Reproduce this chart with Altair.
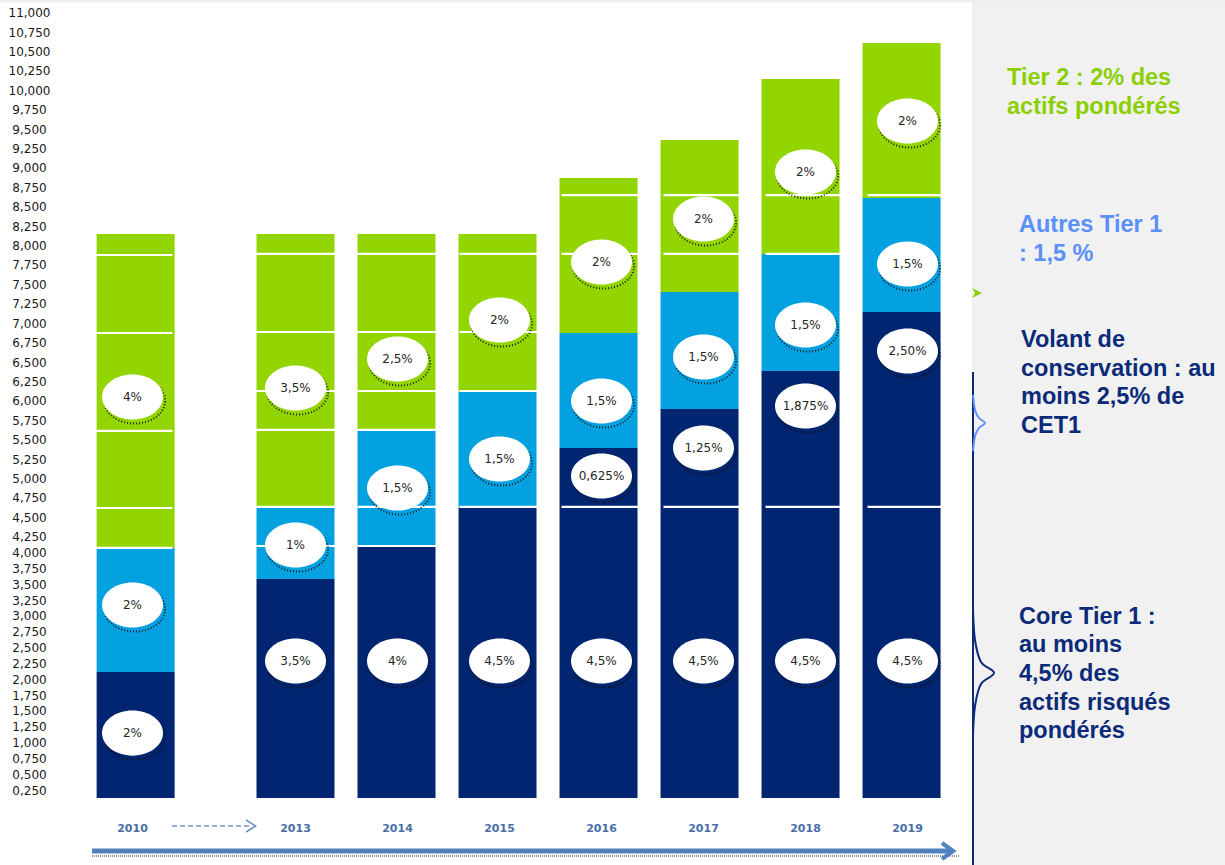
import altair as alt
import pandas as pd

OX = 60  # left padding (px) reserved for the y-axis labels

# ---------------- data (in y-axis units) ----------------
years = [2010, 2013, 2014, 2015, 2016, 2017, 2018, 2019]
bar_base = 0.124
core_top = [2.114, 3.582, 4.103, 4.620, 5.393, 5.895, 6.384, 7.145]
autres_top = [4.072, 4.620, 5.612, 6.114, 6.874, 7.402, 7.892, 8.613]
tier2_top = [8.149, 8.149, 8.149, 8.149, 8.871, 9.360, 10.146, 10.610]

# white separator lines inside the bars
sep_years = [2010, 2010, 2010, 2010, 2010,
             2013, 2013, 2013, 2013, 2013, 2013,
             2014, 2014, 2014, 2014, 2014, 2014,
             2015, 2015, 2015, 2015,
             2016, 2016, 2016,
             2017, 2017, 2017,
             2018, 2018, 2018,
             2019, 2019]
sep_values = [7.879, 6.874, 5.612, 4.620, 4.072,
              7.892, 6.887, 6.127, 5.625, 4.633, 4.103,
              7.892, 6.887, 6.127, 5.625, 4.633, 4.103,
              7.892, 6.887, 6.127, 4.633,
              8.651, 7.892, 4.633,
              8.651, 7.892, 4.633,
              8.651, 7.892, 4.633,
              8.651, 4.633]

# ellipse labels
lab_years = [2010, 2010, 2010,
             2013, 2013, 2013,
             2014, 2014, 2014,
             2015, 2015, 2015,
             2016, 2016, 2016, 2016,
             2017, 2017, 2017, 2017,
             2018, 2018, 2018, 2018,
             2019, 2019, 2019, 2019]
lab_values = [1.150, 3.172, 6.050,
              2.287, 4.119, 6.166,
              2.287, 4.877, 6.539,
              2.287, 5.251, 7.041,
              2.287, 5.032, 5.998, 7.789,
              2.287, 5.393, 6.565, 8.343,
              2.287, 5.934, 6.977, 8.948,
              2.287, 6.642, 7.763, 9.605]
lab_texts = ["2%", "2%", "4%",
             "3,5%", "1%", "3,5%",
             "4%", "1,5%", "2,5%",
             "4,5%", "1,5%", "2%",
             "4,5%", "0,625%", "1,5%", "2%",
             "4,5%", "1,25%", "1,5%", "2%",
             "4,5%", "1,875%", "1,5%", "2%",
             "4,5%", "2,50%", "1,5%", "2%"]

y_ticks = [0.25, 0.5, 0.75, 1.0, 1.25, 1.5, 1.75, 2.0, 2.25, 2.5, 2.75, 3.0,
           3.25, 3.5, 3.75, 4.0, 4.25, 4.5, 4.75, 5.0, 5.25, 5.5, 5.75, 6.0,
           6.25, 6.5, 6.75, 7.0, 7.25, 7.5, 7.75, 8.0, 8.25, 8.5, 8.75, 9.0,
           9.25, 9.5, 9.75, 10.0, 10.25, 10.5, 10.75, 11.0]

tiers = ["core", "autres", "tier2"]
tier_colors = ["#012570", "#03a1df", "#93d500"]

# ---------------- tables ----------------
rows = []
for i, yr in enumerate(years):
    rows.append({"year": yr, "y0": bar_base, "y1": core_top[i], "tier": "core"})
    rows.append({"year": yr, "y0": core_top[i], "y1": autres_top[i], "tier": "autres"})
    rows.append({"year": yr, "y0": autres_top[i], "y1": tier2_top[i], "tier": "tier2"})
seg_df = pd.DataFrame(rows)
sep_df = pd.DataFrame({"year": sep_years, "v": sep_values})
lab_df = pd.DataFrame({"year": lab_years, "v": lab_values, "t": lab_texts})
year_df = pd.DataFrame({"year": years, "t": [str(y) for y in years]})
one = pd.DataFrame({"a": [0]})

# piecewise scales reproducing the picture's uneven axis and the 2010 gap
yscale = alt.Scale(domain=[0, 4.25, 11], range=[805.9, 536.7, 12.7], nice=False, zero=False)
xscale = alt.Scale(domain=[2010, 2013, 2019], range=[72.5, 235.5, 847.5], nice=False, zero=False)

yaxis = alt.Axis(values=y_ticks,
                 labelExpr="replace(format(datum.value, '.3f'), '.', ',')",
                 domain=False, ticks=False, tickSize=0, grid=False, title=None,
                 labelPadding=31, labelAlign="center", labelBaseline="middle",
                 labelFont="DejaVu Sans", labelFontSize=12, labelColor="#1a1a1a",
                 labelOverlap=False, labelFlush=False)

X = alt.X("year:Q", scale=xscale, axis=None)

# ---------------- decorations ----------------
panel = alt.Chart(one).mark_rect(color="#f1f1f1").encode(
    x=alt.value(972 - OX), x2=alt.value(1230 - OX), y=alt.value(0), y2=alt.value(865))
topband = alt.Chart(one).mark_rect(color="#efefef").encode(
    x=alt.value(-OX), x2=alt.value(1230 - OX), y=alt.value(0), y2=alt.value(2.5))

bars = alt.Chart(seg_df).mark_bar(size=78).encode(
    x=X,
    y=alt.Y("y0:Q", scale=yscale, axis=yaxis),
    y2="y1:Q",
    color=alt.Color("tier:N", scale=alt.Scale(domain=tiers, range=tier_colors), legend=None),
)

seps = alt.Chart(sep_df).mark_tick(orient="horizontal", size=80, thickness=2.2, color="white",
                                   opacity=1).encode(
    x=X, y=alt.Y("v:Q", scale=yscale, axis=None))

ELL = "M-1,0A1,0.74,0,1,1,1,0A1,0.74,0,1,1,-1,0Z"
SHD = "M-0.93,0.13A1,0.74,0,1,1,1.07,0.13A1,0.74,0,1,1,-0.93,0.13Z"

shadows = alt.Chart(lab_df).mark_point(shape=SHD, size=3721, filled=False, stroke="#111111",
                                       strokeWidth=2, strokeDash=[1, 2], opacity=0.9).encode(
    x=X, y=alt.Y("v:Q", scale=yscale, axis=None))
ellipses = alt.Chart(lab_df).mark_point(shape=ELL, size=3721, filled=True, fill="white",
                                        strokeWidth=0, opacity=1).encode(
    x=X, y=alt.Y("v:Q", scale=yscale, axis=None))
labels = alt.Chart(lab_df).mark_text(font="DejaVu Sans", fontSize=12, color="#262626",
                                     baseline="middle").encode(
    x=X, y=alt.Y("v:Q", scale=yscale, axis=None), text="t:N")

year_labels = alt.Chart(year_df).mark_text(font="DejaVu Sans", fontSize=11, fontWeight="bold",
                                           color="#4a6ea8", baseline="middle").encode(
    x=X, y=alt.value(829), text="t:N")

dash_arrow = alt.Chart(one).mark_rule(color="#6f95cc", strokeWidth=1.5, strokeDash=[5, 3]).encode(
    x=alt.value(172 - OX), x2=alt.value(252 - OX), y=alt.value(826))
dash_head = alt.Chart(one).mark_point(shape="M-1,-1L0.6,0L-1,1", size=144, filled=False,
                                      stroke="#6f95cc", strokeWidth=1.5, opacity=1).encode(
    x=alt.value(252 - OX), y=alt.value(826))
big_arrow = alt.Chart(one).mark_rule(color="#4f81bd", strokeWidth=5).encode(
    x=alt.value(92 - OX), x2=alt.value(952 - OX), y=alt.value(851))
big_dots = alt.Chart(one).mark_rule(color="#444444", strokeWidth=2, strokeDash=[1, 1],
                                    opacity=0.6).encode(
    x=alt.value(92 - OX), x2=alt.value(960 - OX), y=alt.value(856))
big_head = alt.Chart(one).mark_point(shape="M-1,-1L0.4,0L-1,1", size=256, filled=False,
                                     stroke="#4f81bd", strokeWidth=4, opacity=1).encode(
    x=alt.value(950 - OX), y=alt.value(851))

vline = alt.Chart(one).mark_rule(color="#0b2a78", strokeWidth=2).encode(
    x=alt.value(973 - OX), y=alt.value(372), y2=alt.value(865))
green_head = alt.Chart(one).mark_point(shape="M-1,-1L1,0L-1,1L-0.4,0Z", size=100, filled=True,
                                       fill="#8ccf00", strokeWidth=0, opacity=1).encode(
    x=alt.value(977 - OX), y=alt.value(293))

brace_blue = pd.DataFrame({
    "px": [973, 975, 979, 985, 979, 975, 973],
    "py": [395, 410, 418, 423, 428, 436, 451],
    "o": [0, 1, 2, 3, 4, 5, 6]})
brace_blue["px"] = brace_blue["px"] - OX
brace_navy = pd.DataFrame({
    "px": [973, 975, 981, 994, 981, 975, 973],
    "py": [610, 640, 662, 673, 684, 706, 735],
    "o": [0, 1, 2, 3, 4, 5, 6]})
brace_navy["px"] = brace_navy["px"] - OX

b1 = alt.Chart(brace_blue).mark_line(color="#5b8ff9", strokeWidth=2, interpolate="cardinal").encode(
    x=alt.X("px:Q", scale=None, axis=None), y=alt.Y("py:Q", scale=None, axis=None), order="o:Q")
b2 = alt.Chart(brace_navy).mark_line(color="#0b2a78", strokeWidth=2, interpolate="cardinal").encode(
    x=alt.X("px:Q", scale=None, axis=None), y=alt.Y("py:Q", scale=None, axis=None), order="o:Q")


def panel_text(lines, x, y, color):
    return alt.Chart(one).mark_text(text=lines, align="left", baseline="alphabetic",
                                    font="Liberation Sans", fontWeight="bold", fontSize=23.5,
                                    lineHeight=28.7, color=color).encode(
        x=alt.value(x - OX), y=alt.value(y))


t_tier2 = panel_text(["Tier 2 : 2% des", "actifs pondérés"], 1007, 85, "#8ccf00")
t_autres = panel_text(["Autres Tier 1", ": 1,5 %"], 1019, 232, "#5b8ff9")
t_volant = panel_text(["Volant de", "conservation : au", "moins 2,5% de", "CET1"], 1021, 347, "#0b2a78")
t_core = panel_text(["Core Tier 1 :", "au moins", "4,5% des", "actifs risqués", "pondérés"],
                    1019, 623.5, "#0b2a78")

chart = alt.layer(
    panel, topband, bars, seps, shadows, ellipses, labels, year_labels,
    dash_arrow, dash_head, big_dots, big_arrow, big_head,
    vline, green_head, b1, b2, t_tier2, t_autres, t_volant, t_core,
).resolve_scale(x="independent", y="independent").properties(
    width=1225 - OX, height=865,
    autosize=alt.AutoSizeParams(type="none"),
    padding={"left": OX, "top": 0, "right": 0, "bottom": 0},
    background="white",
).configure_view(stroke=None)

chart.save("out.html", embed_options={"renderer": "svg", "actions": False})
